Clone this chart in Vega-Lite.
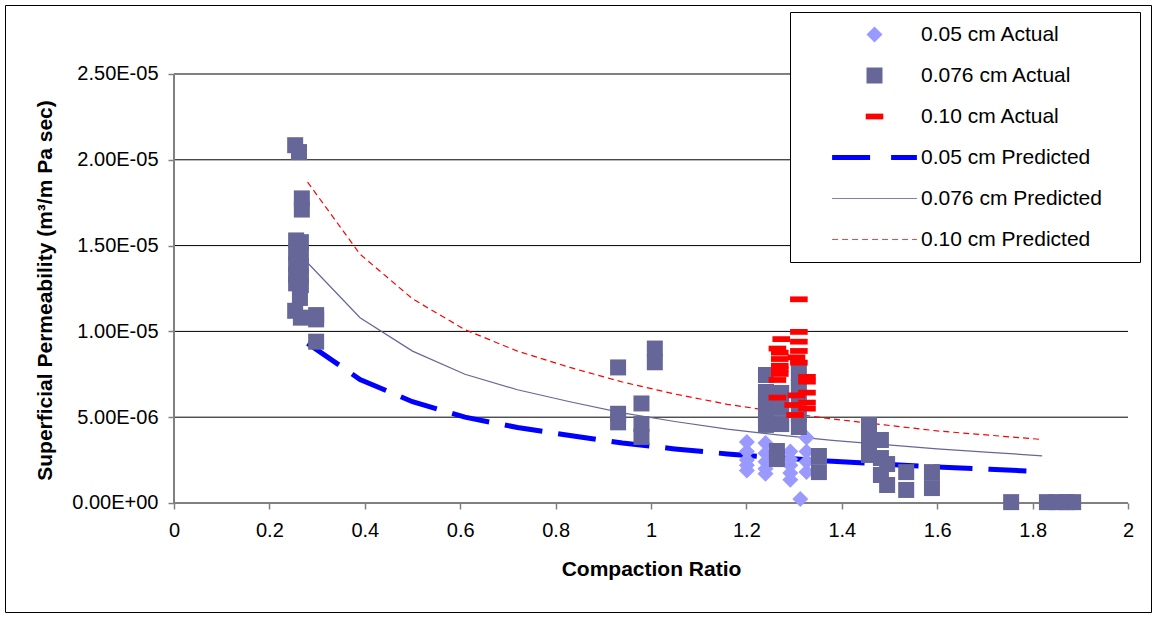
{
  "$schema": "https://vega.github.io/schema/vega-lite/v6.json",
  "width": 1146,
  "height": 607,
  "padding": 5,
  "autosize": {"type": "none"},
  "background": "#FFFFFF",
  "config": {
    "view": {"stroke": "#000000", "strokeWidth": 1},
    "font": "Liberation Sans"
  },
  "datasets": {
    "grid": [{"y": 5e-6}, {"y": 1e-5}, {"y": 1.5e-5}, {"y": 2e-5}, {"y": 2.5e-5}],
    "predicted": [
      {"series": "0.05 cm Predicted", "x": 0.28, "y": 9.3e-6},
      {"series": "0.05 cm Predicted", "x": 0.39, "y": 7.2e-6},
      {"series": "0.05 cm Predicted", "x": 0.5, "y": 5.9e-6},
      {"series": "0.05 cm Predicted", "x": 0.61, "y": 5.0e-6},
      {"series": "0.05 cm Predicted", "x": 0.72, "y": 4.4e-6},
      {"series": "0.05 cm Predicted", "x": 0.83, "y": 3.93e-6},
      {"series": "0.05 cm Predicted", "x": 0.94, "y": 3.5e-6},
      {"series": "0.05 cm Predicted", "x": 1.05, "y": 3.15e-6},
      {"series": "0.05 cm Predicted", "x": 1.16, "y": 2.86e-6},
      {"series": "0.05 cm Predicted", "x": 1.27, "y": 2.63e-6},
      {"series": "0.05 cm Predicted", "x": 1.38, "y": 2.43e-6},
      {"series": "0.05 cm Predicted", "x": 1.49, "y": 2.26e-6},
      {"series": "0.05 cm Predicted", "x": 1.6, "y": 2.1e-6},
      {"series": "0.05 cm Predicted", "x": 1.71, "y": 1.96e-6},
      {"series": "0.05 cm Predicted", "x": 1.8, "y": 1.85e-6},
      {"series": "0.076 cm Predicted", "x": 0.28, "y": 1.4e-5},
      {"series": "0.076 cm Predicted", "x": 0.39, "y": 1.08e-5},
      {"series": "0.076 cm Predicted", "x": 0.5, "y": 8.85e-6},
      {"series": "0.076 cm Predicted", "x": 0.61, "y": 7.5e-6},
      {"series": "0.076 cm Predicted", "x": 0.72, "y": 6.6e-6},
      {"series": "0.076 cm Predicted", "x": 0.83, "y": 5.9e-6},
      {"series": "0.076 cm Predicted", "x": 0.94, "y": 5.25e-6},
      {"series": "0.076 cm Predicted", "x": 1.05, "y": 4.75e-6},
      {"series": "0.076 cm Predicted", "x": 1.16, "y": 4.3e-6},
      {"series": "0.076 cm Predicted", "x": 1.27, "y": 3.95e-6},
      {"series": "0.076 cm Predicted", "x": 1.38, "y": 3.65e-6},
      {"series": "0.076 cm Predicted", "x": 1.49, "y": 3.4e-6},
      {"series": "0.076 cm Predicted", "x": 1.6, "y": 3.15e-6},
      {"series": "0.076 cm Predicted", "x": 1.71, "y": 2.95e-6},
      {"series": "0.076 cm Predicted", "x": 1.82, "y": 2.75e-6},
      {"series": "0.10 cm Predicted", "x": 0.28, "y": 1.87e-5},
      {"series": "0.10 cm Predicted", "x": 0.39, "y": 1.45e-5},
      {"series": "0.10 cm Predicted", "x": 0.5, "y": 1.19e-5},
      {"series": "0.10 cm Predicted", "x": 0.61, "y": 1.01e-5},
      {"series": "0.10 cm Predicted", "x": 0.72, "y": 8.85e-6},
      {"series": "0.10 cm Predicted", "x": 0.83, "y": 7.9e-6},
      {"series": "0.10 cm Predicted", "x": 0.94, "y": 7.05e-6},
      {"series": "0.10 cm Predicted", "x": 1.05, "y": 6.35e-6},
      {"series": "0.10 cm Predicted", "x": 1.16, "y": 5.75e-6},
      {"series": "0.10 cm Predicted", "x": 1.27, "y": 5.3e-6},
      {"series": "0.10 cm Predicted", "x": 1.38, "y": 4.9e-6},
      {"series": "0.10 cm Predicted", "x": 1.49, "y": 4.55e-6},
      {"series": "0.10 cm Predicted", "x": 1.6, "y": 4.2e-6},
      {"series": "0.10 cm Predicted", "x": 1.71, "y": 3.95e-6},
      {"series": "0.10 cm Predicted", "x": 1.82, "y": 3.7e-6}
    ],
    "actual": [
      {"series": "0.05 cm Actual", "x": 1.201, "y": 3.55e-6},
      {"series": "0.05 cm Actual", "x": 1.201, "y": 3.0e-6},
      {"series": "0.05 cm Actual", "x": 1.201, "y": 2.5e-6},
      {"series": "0.05 cm Actual", "x": 1.201, "y": 2.2e-6},
      {"series": "0.05 cm Actual", "x": 1.201, "y": 1.9e-6},
      {"series": "0.05 cm Actual", "x": 1.24, "y": 3.5e-6},
      {"series": "0.05 cm Actual", "x": 1.24, "y": 2.9e-6},
      {"series": "0.05 cm Actual", "x": 1.24, "y": 2.4e-6},
      {"series": "0.05 cm Actual", "x": 1.24, "y": 2.0e-6},
      {"series": "0.05 cm Actual", "x": 1.24, "y": 1.7e-6},
      {"series": "0.05 cm Actual", "x": 1.292, "y": 3.0e-6},
      {"series": "0.05 cm Actual", "x": 1.292, "y": 2.55e-6},
      {"series": "0.05 cm Actual", "x": 1.292, "y": 2.2e-6},
      {"series": "0.05 cm Actual", "x": 1.292, "y": 1.75e-6},
      {"series": "0.05 cm Actual", "x": 1.292, "y": 1.35e-6},
      {"series": "0.05 cm Actual", "x": 1.326, "y": 3.8e-6},
      {"series": "0.05 cm Actual", "x": 1.326, "y": 3.0e-6},
      {"series": "0.05 cm Actual", "x": 1.326, "y": 2.4e-6},
      {"series": "0.05 cm Actual", "x": 1.326, "y": 1.8e-6},
      {"series": "0.05 cm Actual", "x": 1.313, "y": 2.3e-7},
      {"series": "0.076 cm Actual", "x": 0.254, "y": 2.085e-5},
      {"series": "0.076 cm Actual", "x": 0.262, "y": 2.045e-5},
      {"series": "0.076 cm Actual", "x": 0.268, "y": 1.775e-5},
      {"series": "0.076 cm Actual", "x": 0.268, "y": 1.71e-5},
      {"series": "0.076 cm Actual", "x": 0.256, "y": 1.53e-5},
      {"series": "0.076 cm Actual", "x": 0.266, "y": 1.52e-5},
      {"series": "0.076 cm Actual", "x": 0.256, "y": 1.46e-5},
      {"series": "0.076 cm Actual", "x": 0.266, "y": 1.45e-5},
      {"series": "0.076 cm Actual", "x": 0.256, "y": 1.39e-5},
      {"series": "0.076 cm Actual", "x": 0.266, "y": 1.38e-5},
      {"series": "0.076 cm Actual", "x": 0.256, "y": 1.33e-5},
      {"series": "0.076 cm Actual", "x": 0.266, "y": 1.32e-5},
      {"series": "0.076 cm Actual", "x": 0.256, "y": 1.28e-5},
      {"series": "0.076 cm Actual", "x": 0.266, "y": 1.27e-5},
      {"series": "0.076 cm Actual", "x": 0.264, "y": 1.195e-5},
      {"series": "0.076 cm Actual", "x": 0.254, "y": 1.12e-5},
      {"series": "0.076 cm Actual", "x": 0.266, "y": 1.08e-5},
      {"series": "0.076 cm Actual", "x": 0.298, "y": 1.095e-5},
      {"series": "0.076 cm Actual", "x": 0.298, "y": 1.07e-5},
      {"series": "0.076 cm Actual", "x": 0.298, "y": 9.4e-6},
      {"series": "0.076 cm Actual", "x": 0.931, "y": 7.9e-6},
      {"series": "0.076 cm Actual", "x": 1.008, "y": 9.0e-6},
      {"series": "0.076 cm Actual", "x": 1.008, "y": 8.2e-6},
      {"series": "0.076 cm Actual", "x": 0.98, "y": 5.8e-6},
      {"series": "0.076 cm Actual", "x": 0.931, "y": 5.2e-6},
      {"series": "0.076 cm Actual", "x": 0.931, "y": 4.7e-6},
      {"series": "0.076 cm Actual", "x": 0.98, "y": 4.6e-6},
      {"series": "0.076 cm Actual", "x": 0.98, "y": 3.85e-6},
      {"series": "0.076 cm Actual", "x": 1.241, "y": 7.46e-6},
      {"series": "0.076 cm Actual", "x": 1.241, "y": 6.47e-6},
      {"series": "0.076 cm Actual", "x": 1.241, "y": 5.83e-6},
      {"series": "0.076 cm Actual", "x": 1.241, "y": 5.19e-6},
      {"series": "0.076 cm Actual", "x": 1.241, "y": 4.55e-6},
      {"series": "0.076 cm Actual", "x": 1.273, "y": 6.41e-6},
      {"series": "0.076 cm Actual", "x": 1.273, "y": 5.54e-6},
      {"series": "0.076 cm Actual", "x": 1.273, "y": 4.6e-6},
      {"series": "0.076 cm Actual", "x": 1.31, "y": 7.58e-6},
      {"series": "0.076 cm Actual", "x": 1.31, "y": 6.76e-6},
      {"series": "0.076 cm Actual", "x": 1.31, "y": 6.0e-6},
      {"series": "0.076 cm Actual", "x": 1.31, "y": 5.19e-6},
      {"series": "0.076 cm Actual", "x": 1.31, "y": 4.43e-6},
      {"series": "0.076 cm Actual", "x": 1.264, "y": 3.03e-6},
      {"series": "0.076 cm Actual", "x": 1.264, "y": 2.56e-6},
      {"series": "0.076 cm Actual", "x": 1.352, "y": 2.74e-6},
      {"series": "0.076 cm Actual", "x": 1.352, "y": 1.8e-6},
      {"series": "0.076 cm Actual", "x": 1.457, "y": 4.55e-6},
      {"series": "0.076 cm Actual", "x": 1.457, "y": 3.67e-6},
      {"series": "0.076 cm Actual", "x": 1.457, "y": 2.8e-6},
      {"series": "0.076 cm Actual", "x": 1.482, "y": 3.67e-6},
      {"series": "0.076 cm Actual", "x": 1.482, "y": 2.62e-6},
      {"series": "0.076 cm Actual", "x": 1.482, "y": 1.63e-6},
      {"series": "0.076 cm Actual", "x": 1.495, "y": 2.27e-6},
      {"series": "0.076 cm Actual", "x": 1.495, "y": 1.05e-6},
      {"series": "0.076 cm Actual", "x": 1.535, "y": 1.8e-6},
      {"series": "0.076 cm Actual", "x": 1.535, "y": 7.6e-7},
      {"series": "0.076 cm Actual", "x": 1.589, "y": 1.8e-6},
      {"series": "0.076 cm Actual", "x": 1.589, "y": 8.7e-7},
      {"series": "0.076 cm Actual", "x": 1.755, "y": 5e-8},
      {"series": "0.076 cm Actual", "x": 1.83, "y": 5e-8},
      {"series": "0.076 cm Actual", "x": 1.85, "y": 5e-8},
      {"series": "0.076 cm Actual", "x": 1.87, "y": 5e-8},
      {"series": "0.076 cm Actual", "x": 1.885, "y": 5e-8},
      {"series": "0.10 cm Actual", "x": 1.31, "y": 1.187e-5},
      {"series": "0.10 cm Actual", "x": 1.31, "y": 9.97e-6},
      {"series": "0.10 cm Actual", "x": 1.31, "y": 9.4e-6},
      {"series": "0.10 cm Actual", "x": 1.31, "y": 8.86e-6},
      {"series": "0.10 cm Actual", "x": 1.31, "y": 8.18e-6},
      {"series": "0.10 cm Actual", "x": 1.305, "y": 8.49e-6},
      {"series": "0.10 cm Actual", "x": 1.305, "y": 6.27e-6},
      {"series": "0.10 cm Actual", "x": 1.273, "y": 9.55e-6},
      {"series": "0.10 cm Actual", "x": 1.265, "y": 9.0e-6},
      {"series": "0.10 cm Actual", "x": 1.265, "y": 7.17e-6},
      {"series": "0.10 cm Actual", "x": 1.265, "y": 6.14e-6},
      {"series": "0.10 cm Actual", "x": 1.27, "y": 8.76e-6},
      {"series": "0.10 cm Actual", "x": 1.27, "y": 8.39e-6},
      {"series": "0.10 cm Actual", "x": 1.27, "y": 8.0e-6},
      {"series": "0.10 cm Actual", "x": 1.27, "y": 7.8e-6},
      {"series": "0.10 cm Actual", "x": 1.27, "y": 7.52e-6},
      {"series": "0.10 cm Actual", "x": 1.327, "y": 7.35e-6},
      {"series": "0.10 cm Actual", "x": 1.327, "y": 7.07e-6},
      {"series": "0.10 cm Actual", "x": 1.327, "y": 6.43e-6},
      {"series": "0.10 cm Actual", "x": 1.327, "y": 5.85e-6},
      {"series": "0.10 cm Actual", "x": 1.327, "y": 5.5e-6},
      {"series": "0.10 cm Actual", "x": 1.298, "y": 5.71e-6},
      {"series": "0.10 cm Actual", "x": 1.302, "y": 5.13e-6}
    ]
  },
  "layer": [
    {
      "data": {"name": "grid"},
      "mark": {"type": "rule", "color": "#000000", "strokeWidth": 1},
      "encoding": {
        "x": {
          "datum": 0,
          "type": "quantitative",
          "scale": {"domain": [-0.3543, 2.0482], "nice": false, "zero": false},
          "axis": {
            "title": "Compaction Ratio",
            "values": [0, 0.2, 0.4, 0.6, 0.8, 1, 1.2, 1.4, 1.6, 1.8, 2],
            "format": "~g",
            "offset": -109,
            "domain": false,
            "grid": false,
            "ticks": true,
            "tickColor": "#808080",
            "tickWidth": 1.5,
            "tickSize": 6,
            "labelFont": "Liberation Sans",
            "labelFontSize": 20,
            "labelColor": "#000000",
            "labelPadding": 11,
            "labelFlush": false,
            "labelOverlap": false,
            "titleFont": "Liberation Sans",
            "titleFontSize": 21,
            "titleFontWeight": "bold",
            "titleColor": "#000000",
            "titleX": 646,
            "titlePadding": 18
          }
        },
        "x2": {"datum": 2},
        "y": {
          "field": "y",
          "type": "quantitative",
          "scale": {"domain": [-6.352e-6, 2.902e-5], "nice": false, "zero": false},
          "axis": {
            "title": "Superficial Permeability (m³/m Pa sec)",
            "values": [0, 5e-6, 1e-5, 1.5e-5, 2e-5, 2.5e-5],
            "labelExpr": "replace(replace(upper(format(datum.value, '.2e')), 'E-', 'E-0'), 'E+', 'E+0')",
            "offset": -169,
            "domain": false,
            "grid": false,
            "ticks": true,
            "tickColor": "#808080",
            "tickWidth": 1.5,
            "tickSize": 6,
            "labelFont": "Liberation Sans",
            "labelFontSize": 20,
            "labelColor": "#000000",
            "labelPadding": 10,
            "labelFlush": false,
            "labelOverlap": false,
            "titleFont": "Liberation Sans",
            "titleFontSize": 21,
            "titleFontWeight": "bold",
            "titleColor": "#000000",
            "titleY": 285,
            "titlePadding": 16
          }
        }
      }
    },
    {
      "data": {"values": [{}]},
      "mark": {"type": "rule", "color": "#808080", "strokeWidth": 2},
      "encoding": {
        "x": {"datum": 0, "type": "quantitative"},
        "x2": {"datum": 2},
        "y": {"datum": 0, "type": "quantitative"}
      }
    },
    {
      "data": {"values": [{}]},
      "mark": {"type": "rule", "color": "#808080", "strokeWidth": 2},
      "encoding": {
        "x": {"datum": 0, "type": "quantitative"},
        "y": {"datum": 0, "type": "quantitative"},
        "y2": {"datum": 2.5e-5}
      }
    },
    {
      "data": {"name": "predicted"},
      "transform": [{"filter": "datum.series == '0.05 cm Predicted'"}],
      "mark": {"type": "line", "color": "#0000FF", "strokeWidth": 5, "strokeDash": [38, 16], "strokeCap": "butt"},
      "encoding": {
        "x": {"field": "x", "type": "quantitative"},
        "y": {"field": "y", "type": "quantitative"}
      }
    },
    {
      "data": {"name": "predicted"},
      "transform": [{"filter": "datum.series == '0.076 cm Predicted'"}],
      "mark": {"type": "line", "color": "#666699", "strokeWidth": 1.2},
      "encoding": {
        "x": {"field": "x", "type": "quantitative"},
        "y": {"field": "y", "type": "quantitative"}
      }
    },
    {
      "data": {"name": "predicted"},
      "transform": [{"filter": "datum.series == '0.10 cm Predicted'"}],
      "mark": {"type": "line", "color": "#FF0000", "strokeWidth": 1.2, "strokeDash": [6, 4]},
      "encoding": {
        "x": {"field": "x", "type": "quantitative"},
        "y": {"field": "y", "type": "quantitative"}
      }
    },
    {
      "data": {"name": "actual"},
      "mark": {"type": "point", "filled": true, "opacity": 1, "size": 256, "strokeWidth": 0},
      "encoding": {
        "x": {"field": "x", "type": "quantitative"},
        "y": {"field": "y", "type": "quantitative"},
        "color": {
          "field": "series",
          "type": "nominal",
          "scale": {
            "domain": ["0.05 cm Actual", "0.076 cm Actual", "0.10 cm Actual", "0.05 cm Predicted", "0.076 cm Predicted", "0.10 cm Predicted"],
            "range": ["#9999FF", "#666699", "#FF0000", "#0000FF", "#666699", "#FF0000"]
          },
          "legend": {
            "title": "\u00a0",
            "titleOrient": "right",
            "titlePadding": 26,
            "titleFontSize": 8,
            "orient": "none",
            "legendX": 785,
            "legendY": 7,
            "direction": "vertical",
            "fillColor": "#FFFFFF",
            "strokeColor": "#000000",
            "padding": 12,
            "rowPadding": 19,
            "labelFont": "Liberation Sans",
            "labelFontSize": 21,
            "labelColor": "#000000",
            "labelLimit": 400,
            "symbolSize": 256,
            "symbolOffset": 62,
            "labelOffset": 36,
            "symbolOpacity": 1,
            "encode": {
              "symbols": {
                "update": {
                  "fill": {"signal": "indexof(datum.value, 'Predicted') >= 0 ? 'transparent' : scale('color', datum.value)"},
                  "stroke": {"signal": "datum.value == '0.05 cm Predicted' ? '#0000FF' : datum.value == '0.076 cm Predicted' ? '#8080AA' : datum.value == '0.10 cm Predicted' ? '#FF4040' : 'transparent'"},
                  "strokeWidth": {"signal": "datum.value == '0.05 cm Predicted' ? 5 : 1.2"},
                  "strokeDash": {"signal": "datum.value == '0.05 cm Predicted' ? [38, 21] : datum.value == '0.10 cm Predicted' ? [6, 4] : null"}
                }
              }
            }
          }
        },
        "shape": {
          "field": "series",
          "type": "nominal",
          "scale": {
            "domain": ["0.05 cm Actual", "0.076 cm Actual", "0.10 cm Actual", "0.05 cm Predicted", "0.076 cm Predicted", "0.10 cm Predicted"],
            "range": ["diamond", "square", "M-1.1,-0.36L1.1,-0.36L1.1,0.36L-1.1,0.36Z", "M-5.3,0L5.3,0", "M-5.3,0L5.3,0", "M-5.3,0L5.3,0"]
          }
        }
      }
    }
  ]
}
